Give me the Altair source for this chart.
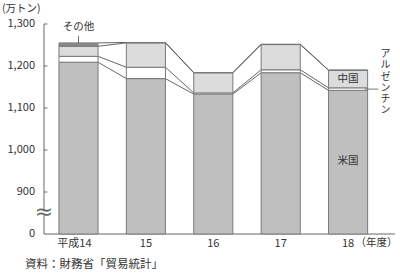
import altair as alt
import pandas as pd

# 年度別・国別の輸入量（万トン）
years = [14, 15, 16, 17, 18]
year_labels = ["平成14", "15", "16", "17", "18"]
us = [1209, 1170, 1133, 1184, 1142]
argentina = [14, 27, 3, 7, 6]
china = [24, 58, 48, 60, 42]
others = [8, 1, 0, 1, 0]

series = ["米国", "アルゼンチン", "中国", "その他"]
fills = ["#bfbfbf", "#ffffff", "#dcdcdc", "#8a8a8a"]
y_ticks = [800, 900, 1000, 1100, 1200, 1300]
y_tick_labels = ["0", "900", "1,000", "1,100", "1,200", "1,300"]

FONT = "Noto Sans CJK JP"
TXT = "#333333"
HALF = 0.29                       # half bar width in year units
X_DOMAIN = [13.488, 18.696]
Y_DOMAIN = [800, 1300]
W, H = 351, 210

# stacked segments
rows = []
for i, yr in enumerate(years):
    base = 0
    for name, vals in zip(series, [us, argentina, china, others]):
        rows.append(dict(year=yr, series=name, lo=base, hi=base + vals[i],
                         x0=yr - HALF, x1=yr + HALF))
        base += vals[i]
seg = pd.DataFrame(rows)

# connectors between the tops of matching segments of neighbouring bars
links = []
for name in series:
    s = seg[seg.series == name].reset_index(drop=True)
    for i in range(len(s) - 1):
        links.append(dict(series=name, xa=float(s.x1[i]), xb=float(s.x0[i + 1]),
                          ya=float(s.hi[i]), yb=float(s.hi[i + 1])))
links = pd.DataFrame(links)

xs = alt.Scale(domain=X_DOMAIN, nice=False, zero=False)
ys = alt.Scale(domain=Y_DOMAIN, nice=False, zero=False, clamp=True)


def X(field):
    return alt.X(field, scale=xs, axis=None, title=None)


def Y(field):
    return alt.Y(field, scale=ys, axis=None, title=None)


bars = alt.Chart(seg).mark_rect(stroke="#7a7a7a", strokeWidth=1).encode(
    x=X("x0:Q"), x2="x1:Q",
    y=Y("lo:Q"), y2="hi:Q",
    fill=alt.Fill("series:N", scale=alt.Scale(domain=series, range=fills), legend=None),
)

connectors = alt.Chart(links).mark_rule(color="#555555", strokeWidth=0.9).encode(
    x=X("xa:Q"), x2="xb:Q", y=Y("ya:Q"), y2="yb:Q",
)

# y axis line with a break, inward ticks, baseline
axis_parts = pd.DataFrame([
    dict(xa=X_DOMAIN[0], xb=X_DOMAIN[0], ya=800, yb=845),
    dict(xa=X_DOMAIN[0], xb=X_DOMAIN[0], ya=854, yb=1300),
    dict(xa=X_DOMAIN[0], xb=X_DOMAIN[1], ya=800, yb=800),
] + [dict(xa=X_DOMAIN[0], xb=X_DOMAIN[0] + 0.05, ya=t, yb=t) for t in y_ticks[1:]])
axis_lines = alt.Chart(axis_parts).mark_rule(color="#666666", strokeWidth=1).encode(
    x=X("xa:Q"), x2="xb:Q", y=Y("ya:Q"), y2="yb:Q",
)

brk = alt.Chart(pd.DataFrame({"x": [X_DOMAIN[0]], "y": [849.5], "t": ["≈"]})).mark_text(
    font="DejaVu Sans", fontSize=22, color="#666666", baseline="middle", align="center",
    dy=-1,
).encode(x=X("x:Q"), y=Y("y:Q"), text="t:N")

# y tick labels
yl = pd.DataFrame({"x": [X_DOMAIN[0]] * len(y_ticks), "y": y_ticks, "t": y_tick_labels})
ylabels = alt.Chart(yl).mark_text(font=FONT, fontSize=11, color=TXT, align="right",
                                  baseline="middle", dx=-9).encode(
    x=X("x:Q"), y=Y("y:Q"), text="t:N")

# year labels under the baseline
xl = pd.DataFrame({"x": [y - (0.06 if i == 0 else 0) for i, y in enumerate(years)],
                   "y": [800] * 5, "t": year_labels})
xlabels = alt.Chart(xl).mark_text(font=FONT, fontSize=11, color=TXT,
                                  baseline="top", dy=4).encode(
    x=X("x:Q"), y=Y("y:Q"), text="t:N")

unit_x = alt.Chart(pd.DataFrame({"x": [18.11], "y": [800], "t": ["（年度）"]})).mark_text(
    font=FONT, fontSize=10.5, color=TXT, baseline="top", dy=4, align="left").encode(
    x=X("x:Q"), y=Y("y:Q"), text="t:N")

# series annotations
ann = pd.DataFrame({
    "x": [14.0, 18.0, 18.0],
    "y": [1293, 1169, 973],
    "t": ["その他", "中国", "米国"],
})
ann_text = alt.Chart(ann).mark_text(font=FONT, fontSize=10.5, color=TXT,
                                    baseline="middle").encode(
    x=X("x:Q"), y=Y("y:Q"), text="t:N")

leaders = pd.DataFrame([
    dict(xa=14.0, xb=14.0, ya=1272, yb=1254),
    dict(xa=18.0 + HALF - 0.04, xb=18.45, ya=1145, yb=1145),
])
leader_lines = alt.Chart(leaders).mark_rule(color="#555555", strokeWidth=0.8).encode(
    x=X("xa:Q"), x2="xb:Q", y=Y("ya:Q"), y2="yb:Q",
)

# vertical label, one character per line
arg_label = alt.Chart(pd.DataFrame({"x": [18.555], "y": [1240], "t": ["ア\nル\nゼ\nン\nチ\nン"]})).mark_text(
    font=FONT, fontSize=10, color=TXT, lineBreak="\n", lineHeight=11.2,
    baseline="top", align="center").encode(
    x=X("x:Q"), y=Y("y:Q"), text="t:N")

unit_y = alt.Chart(pd.DataFrame({"t": ["(万トン)"]})).mark_text(
    font=FONT, fontSize=10.5, color=TXT, align="left", baseline="middle").encode(
    x=alt.value(-42), y=alt.value(-15), text="t:N")

source = alt.Chart(pd.DataFrame({"t": ["資料：財務省「貿易統計」"]})).mark_text(
    font=FONT, fontSize=11.5, color=TXT, align="left", baseline="middle").encode(
    x=alt.value(-19), y=alt.value(241), text="t:N")

chart = alt.layer(
    axis_lines, connectors, bars, brk, ylabels, xlabels, unit_x, ann_text, leader_lines,
    arg_label, unit_y, source,
).properties(
    width=W, height=H,
    background="white",
    autosize=alt.AutoSizeParams(type="none"),
    padding={"left": 44, "top": 24, "right": 5, "bottom": 45},
).configure_view(stroke=None)

chart.save("out.html", embed_options={"renderer": "svg", "actions": False})
